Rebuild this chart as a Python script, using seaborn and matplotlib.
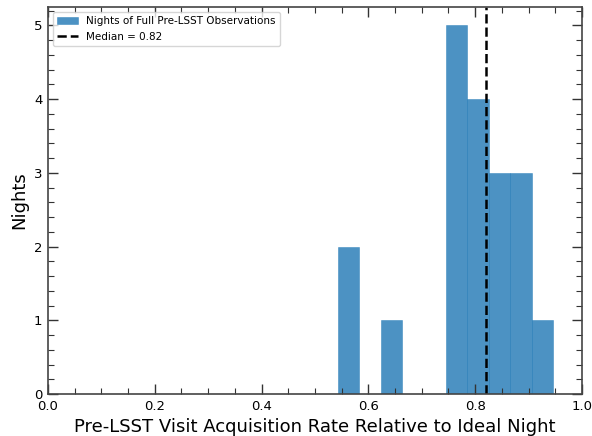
import matplotlib
matplotlib.use("Agg")
import matplotlib.pyplot as plt
import seaborn as sns
import numpy as np
from matplotlib.ticker import MultipleLocator

# Data
bin_edges = [0.543, 0.5833, 0.6236, 0.6639, 0.7042, 0.7445, 0.7848, 0.8251, 0.8654, 0.9057, 0.946]
counts = [2, 0, 1, 0, 0, 5, 4, 3, 3, 1]
median_value = 0.82

centers = [(bin_edges[i] + bin_edges[i + 1]) / 2 for i in range(len(counts))]

plt.rcParams['font.family'] = ['DejaVu Sans']

fig = plt.figure(figsize=(5.92, 4.36), dpi=100)
ax = fig.add_axes([0.081, 0.096, 0.902, 0.888])

sns.histplot(x=centers, weights=counts, bins=bin_edges, ax=ax,
             color="#1f77b4", alpha=0.8, edgecolor=(0.12, 0.47, 0.71, 0.6), linewidth=0.5,
             label="Nights of Full Pre-LSST Observations")
ax.axvline(median_value, color="black", linestyle="--", linewidth=1.8,
           label=f"Median = {median_value:.2f}")

ax.set_xlim(0, 1.0)
ax.set_ylim(0, 5.25)
ax.set_xlabel("Pre-LSST Visit Acquisition Rate Relative to Ideal Night", fontsize=13)
ax.set_ylabel("Nights", fontsize=13)

ax.xaxis.set_major_locator(MultipleLocator(0.2))
ax.xaxis.set_minor_locator(MultipleLocator(0.05))
ax.yaxis.set_major_locator(MultipleLocator(1))
ax.yaxis.set_minor_locator(MultipleLocator(0.2))
ax.tick_params(which="both", direction="in", top=True, right=True, labelsize=9.5,
               color="#333333", labelcolor="black")
ax.tick_params(which="major", length=7, width=1, pad=4)
ax.tick_params(which="minor", length=4, width=0.8)
for s in ax.spines.values():
    s.set_color("#444444")
    s.set_linewidth(1.2)

handles, labels = ax.get_legend_handles_labels()
order = [labels.index("Nights of Full Pre-LSST Observations"), labels.index(f"Median = {median_value:.2f}")]
ax.legend([handles[i] for i in order], [labels[i] for i in order],
          loc="upper left", fontsize=7.5, frameon=True)

fig.savefig("out.png", dpi=100)
